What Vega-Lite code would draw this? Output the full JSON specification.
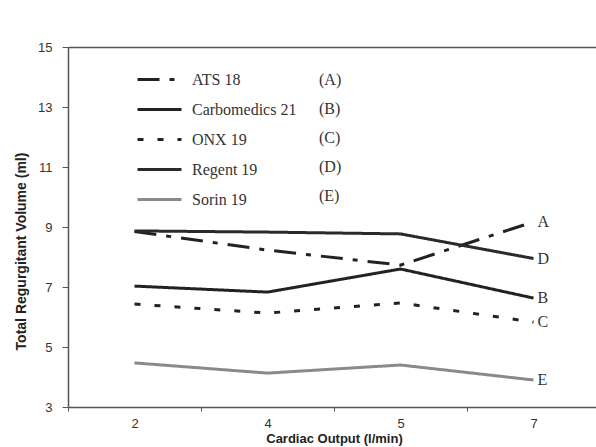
{
  "$schema": "https://vega.github.io/schema/vega-lite/v6.json",
  "width": 528,
  "height": 360,
  "autosize": {"type": "none"},
  "padding": {"left": 68, "top": 47, "right": 0, "bottom": 40},
  "background": "white",
  "config": {
    "view": {"stroke": null},
    "axis": {
      "domainColor": "#555",
      "domainWidth": 1.5,
      "tickColor": "#555",
      "labelColor": "#333",
      "titleColor": "#222",
      "labelFont": "Liberation Sans",
      "titleFont": "Liberation Sans",
      "labelFontSize": 13,
      "titleFontSize": 14,
      "titleFontWeight": "bold"
    },
    "legend": {
      "labelFont": "Liberation Serif",
      "labelFontSize": 16,
      "labelColor": "#333",
      "rowPadding": 12
    }
  },
  "data": {
    "values": [
      {"series": "ATS 18", "letter": "A", "co": "2", "vol": 8.85},
      {"series": "ATS 18", "letter": "A", "co": "4", "vol": 8.23},
      {"series": "ATS 18", "letter": "A", "co": "5", "vol": 7.73},
      {"series": "ATS 18", "letter": "A", "co": "7", "vol": 9.17},
      {"series": "Carbomedics 21", "letter": "B", "co": "2", "vol": 7.03},
      {"series": "Carbomedics 21", "letter": "B", "co": "4", "vol": 6.83},
      {"series": "Carbomedics 21", "letter": "B", "co": "5", "vol": 7.6},
      {"series": "Carbomedics 21", "letter": "B", "co": "7", "vol": 6.63},
      {"series": "ONX 19", "letter": "C", "co": "2", "vol": 6.43},
      {"series": "ONX 19", "letter": "C", "co": "4", "vol": 6.13},
      {"series": "ONX 19", "letter": "C", "co": "5", "vol": 6.47},
      {"series": "ONX 19", "letter": "C", "co": "7", "vol": 5.83},
      {"series": "Regent 19", "letter": "D", "co": "2", "vol": 8.87},
      {"series": "Regent 19", "letter": "D", "co": "4", "vol": 8.83},
      {"series": "Regent 19", "letter": "D", "co": "5", "vol": 8.77},
      {"series": "Regent 19", "letter": "D", "co": "7", "vol": 7.95},
      {"series": "Sorin 19", "letter": "E", "co": "2", "vol": 4.47},
      {"series": "Sorin 19", "letter": "E", "co": "4", "vol": 4.13},
      {"series": "Sorin 19", "letter": "E", "co": "5", "vol": 4.4},
      {"series": "Sorin 19", "letter": "E", "co": "7", "vol": 3.9}
    ]
  },
  "encoding": {
    "x": {
      "field": "co",
      "type": "ordinal",
      "scale": {"type": "band", "paddingInner": 0, "paddingOuter": 0, "range": [0, 532]},
      "axis": {
        "title": "Cardiac Output (l/min)",
        "labelAngle": 0,
        "tickBand": "extent",
        "tickSize": 4,
        "labelPadding": 6,
        "titlePadding": 2,
        "titleFontSize": 13
      }
    },
    "y": {
      "field": "vol",
      "type": "quantitative",
      "scale": {"domain": [3, 15], "nice": false, "zero": false},
      "axis": {
        "title": "Total Regurgitant Volume (ml)",
        "titleY": 204,
        "values": [3, 5, 7, 9, 11, 13, 15],
        "tickSize": 6,
        "labelPadding": 10,
        "titlePadding": 9,
        "grid": true,
        "gridColor": "#555",
        "gridWidth": 1.5,
        "gridOpacity": {"condition": {"test": "datum.value === 15", "value": 1}, "value": 0}
      }
    }
  },
  "layer": [
    {
      "mark": {"type": "line", "strokeCap": "butt"},
      "encoding": {
        "color": {
          "field": "series",
          "type": "nominal",
          "scale": {
            "domain": ["ATS 18", "Carbomedics 21", "ONX 19", "Regent 19", "Sorin 19"],
            "range": ["#222", "#222", "#222", "#2a2a2a", "#8a8a8a"]
          },
          "legend": {
            "title": null,
            "orient": "none",
            "legendX": 82,
            "legendY": 23,
            "symbolType": "M-2.75,0H2.75",
            "symbolSize": 256,
            "labelOffset": 23,
            "labelFont": "Liberation Serif",
            "encode": {
              "labels": {"update": {"font": {"value": "Liberation Serif"}}},
              "symbols": {"update": {"strokeWidth": {"scale": "strokeWidth", "field": "value"}}}
            }
          }
        },
        "strokeDash": {
          "field": "series",
          "type": "nominal",
          "scale": {
            "domain": ["ATS 18", "Carbomedics 21", "ONX 19", "Regent 19", "Sorin 19"],
            "range": [[22, 10, 5, 10], [1, 0], [6, 14], [1, 0], [1, 0]]
          },
          "legend": {
            "title": null,
            "orient": "none",
            "legendX": 82,
            "legendY": 23,
            "symbolType": "M-2.75,0H2.75",
            "symbolSize": 256,
            "labelOffset": 23,
            "labelFont": "Liberation Serif"
          }
        },
        "strokeWidth": {
          "field": "series",
          "type": "nominal",
          "scale": {
            "domain": ["ATS 18", "Carbomedics 21", "ONX 19", "Regent 19", "Sorin 19"],
            "range": [3, 3, 3.5, 1.5, 2.5]
          },
          "legend": {
            "title": null,
            "orient": "none",
            "legendX": 82,
            "legendY": 23,
            "symbolType": "M-2.75,0H2.75",
            "symbolSize": 256,
            "labelOffset": 23,
            "labelFont": "Liberation Serif"
          }
        }
      }
    },
    {
      "transform": [{"filter": "datum.co === '7'"}],
      "mark": {"type": "text", "align": "left", "baseline": "middle", "dx": 4, "font": "Liberation Serif", "fontSize": 16, "color": "#333"},
      "encoding": {
        "text": {"field": "letter"},
        "opacity": {
          "field": "letter",
          "type": "nominal",
          "scale": {"domain": ["A", "B", "C", "D", "E"], "range": [1, 1, 1, 1, 1]},
          "legend": {
            "title": null,
            "orient": "none",
            "legendX": 235,
            "legendY": 25,
            "rowPadding": 13,
            "symbolSize": 0,
            "symbolOpacity": 0,
            "symbolStrokeWidth": 0,
            "labelOffset": 0,
            "labelExpr": "'(' + datum.label + ')'"
          }
        }
      }
    }
  ]
}
